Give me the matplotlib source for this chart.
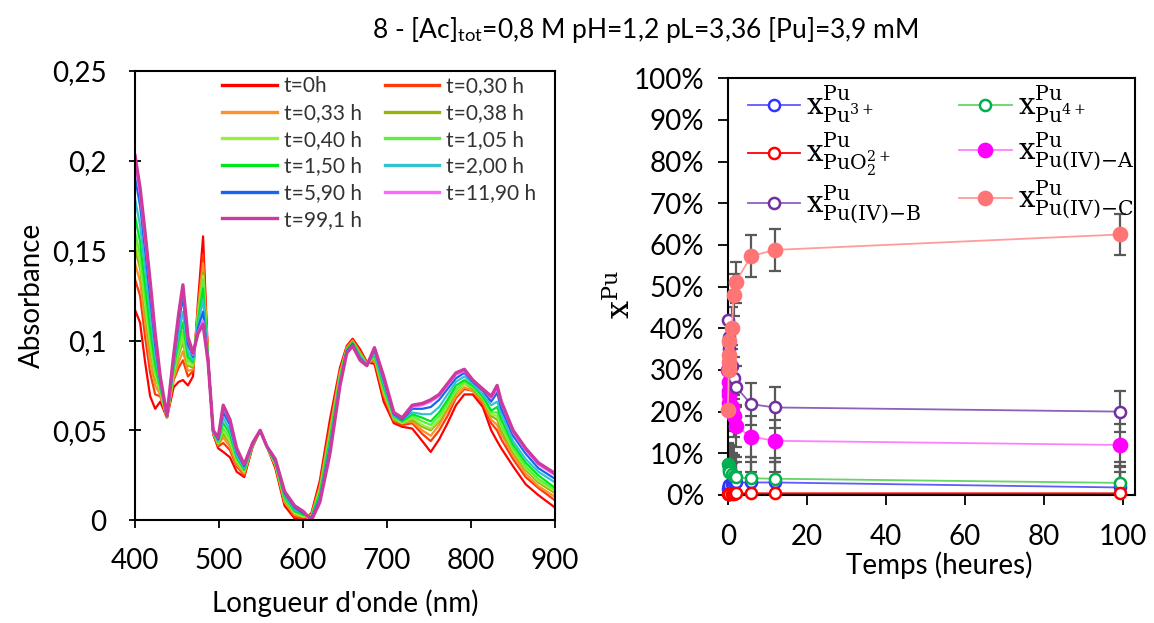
import matplotlib
matplotlib.use("Agg")
from matplotlib import pyplot as plt
from matplotlib.font_manager import FontProperties
from matplotlib.ticker import PercentFormatter

plt.rcParams['font.family'] = ['Lato', 'DejaVu Sans']
plt.rcParams['mathtext.fontset'] = 'custom'
plt.rcParams['mathtext.rm'] = 'Lato'
plt.rcParams['mathtext.it'] = 'Lato:italic'
plt.rcParams['mathtext.bf'] = 'Lato:bold'

title = r"8 - [Ac]$_{\mathrm{tot}}$=0,8 M pH=1,2 pL=3,36 [Pu]=3,9 mM"

##### Spectra (left panel) #####
wavelength = [400, 406, 412, 418, 424, 430, 438, 446, 452, 457, 463, 469, 475, 481,
              487, 493, 499, 505, 513, 521, 530, 540, 549, 557, 567, 578, 590, 600,
              610, 620, 632, 644, 652, 659, 668, 676, 685, 696, 708, 718, 730, 742,
              752, 762, 772, 782, 792, 802, 814, 824, 831, 836, 850, 865, 880, 900]

abs_t0 = [.117, .110, .088, .069, .062, .066, .057, .074, .077, .078, .075, .080, .122, .158,
          .090, .048, .040, .038, .035, .027, .024, .041, .050, .041, .029, .008, .001, .000,
          .004, .022, .056, .085, .097, .101, .095, .088, .087, .066, .054, .052, .051, .044,
          .038, .045, .054, .064, .070, .070, .063, .050, .044, .040, .030, .020, .014, .007]
abs_t030 = [.134, .125, .102, .082, .070, .069, .057, .078, .085, .089, .080, .083, .118, .148,
            .090, .048, .041, .043, .039, .030, .025, .041, .050, .041, .030, .010, .002, .001,
            .003, .020, .052, .083, .096, .100, .094, .088, .089, .069, .055, .053, .054, .048,
            .044, .050, .058, .068, .073, .072, .065, .054, .050, .045, .034, .024, .018, .011]
abs_t033 = [.143, .133, .110, .088, .075, .070, .057, .079, .088, .094, .083, .084, .117, .143,
            .089, .049, .042, .046, .041, .031, .026, .042, .050, .041, .031, .010, .003, .002,
            .003, .018, .050, .082, .096, .100, .093, .087, .090, .070, .056, .054, .055, .050,
            .047, .053, .061, .069, .074, .072, .066, .056, .053, .048, .036, .026, .019, .013]
abs_t038 = [.151, .140, .117, .095, .079, .072, .057, .081, .092, .099, .086, .085, .115, .138,
            .089, .049, .042, .048, .043, .032, .027, .042, .050, .041, .031, .011, .004, .002,
            .002, .017, .048, .081, .095, .099, .093, .087, .091, .072, .056, .054, .056, .052,
            .050, .055, .063, .071, .076, .073, .067, .058, .056, .050, .038, .028, .021, .015]
abs_t040 = [.156, .144, .120, .098, .081, .072, .057, .082, .094, .102, .087, .086, .114, .136,
            .089, .049, .043, .050, .044, .033, .027, .042, .050, .041, .031, .012, .004, .002,
            .002, .017, .047, .081, .095, .099, .092, .087, .091, .072, .057, .054, .057, .053,
            .051, .056, .064, .072, .076, .074, .068, .059, .058, .052, .039, .029, .022, .016]
abs_t105 = [.160, .148, .124, .101, .083, .073, .058, .083, .096, .105, .089, .087, .113, .134,
            .089, .049, .043, .051, .046, .034, .028, .042, .050, .041, .032, .012, .005, .003,
            .002, .016, .047, .080, .095, .099, .092, .087, .092, .073, .057, .055, .058, .055,
            .053, .058, .065, .073, .077, .074, .068, .060, .060, .053, .040, .030, .023, .017]
abs_t150 = [.169, .155, .131, .107, .087, .074, .058, .085, .100, .110, .091, .088, .111, .129,
            .089, .049, .044, .054, .048, .035, .028, .042, .050, .041, .032, .013, .005, .003,
            .002, .015, .045, .079, .095, .099, .091, .087, .092, .074, .058, .055, .059, .057,
            .055, .060, .067, .075, .078, .075, .069, .061, .063, .056, .042, .032, .025, .018]
abs_t200 = [.179, .164, .140, .115, .092, .076, .058, .087, .104, .116, .094, .089, .109, .123,
            .089, .049, .044, .057, .050, .036, .029, .042, .050, .041, .033, .014, .006, .004,
            .001, .013, .042, .078, .094, .098, .091, .087, .093, .076, .058, .056, .060, .059,
            .059, .063, .070, .077, .080, .076, .070, .064, .066, .059, .044, .034, .027, .021]
abs_t590 = [.191, .175, .150, .124, .098, .078, .058, .089, .110, .124, .098, .091, .107, .116,
            .088, .050, .045, .060, .053, .038, .030, .043, .050, .041, .033, .015, .007, .004,
            .001, .012, .040, .076, .094, .098, .090, .086, .095, .078, .059, .056, .062, .062,
            .063, .067, .073, .079, .082, .077, .072, .066, .071, .062, .047, .037, .029, .023]
abs_t1190 = [.199, .181, .156, .130, .102, .079, .058, .091, .113, .128, .101, .092, .105, .111,
             .088, .050, .046, .063, .055, .039, .031, .043, .050, .041, .034, .016, .008, .005,
             .000, .011, .038, .076, .093, .097, .089, .086, .096, .079, .060, .057, .063, .064,
             .066, .069, .075, .081, .083, .078, .073, .068, .073, .065, .049, .039, .031, .025]
abs_t991 = [.203, .185, .160, .133, .104, .080, .058, .092, .115, .131, .102, .093, .104, .109,
            .088, .050, .046, .064, .056, .040, .031, .043, .050, .041, .034, .016, .008, .005,
            .000, .010, .037, .075, .093, .097, .089, .086, .096, .080, .060, .057, .064, .065,
            .067, .070, .076, .082, .084, .078, .073, .069, .075, .066, .050, .040, .032, .026]

spectra = [abs_t0, abs_t030, abs_t033, abs_t038, abs_t040, abs_t105,
           abs_t150, abs_t200, abs_t590, abs_t1190, abs_t991]
spectra_labels = ["t=0h", "t=0,30 h", "t=0,33 h", "t=0,38 h", "t=0,40 h", "t=1,05 h",
                  "t=1,50 h", "t=2,00 h", "t=5,90 h", "t=11,90 h", "t=99,1 h"]
spectra_colors = ["#FF0000", "#FF3A0A", "#FF9226", "#99B30C", "#99F03C", "#5CF03C",
                  "#00E61E", "#33C3D0", "#1466F0", "#FF66FF", "#CC3A9E"]

abs_ticks = [0, 0.05, 0.1, 0.15, 0.2, 0.25]
abs_ticklabels = ["0", "0,05", "0,1", "0,15", "0,2", "0,25"]
wl_ticks = [400, 500, 600, 700, 800, 900]

##### Speciation (right panel) #####
times = [0, 0.30, 0.33, 0.38, 0.40, 1.05, 1.50, 2.00, 5.90, 11.90, 99.1]
x_pu3 = [1.5, 2.0, 2.2, 2.4, 2.5, 2.6, 2.8, 3.0, 3.0, 3.0, 1.8]
x_pu4 = [7.5, 7.0, 6.5, 6.0, 5.5, 5.0, 4.5, 4.2, 4.0, 3.9, 2.9]
x_puo2 = [0.2, 0.3, 0.3, 0.3, 0.3, 0.3, 0.3, 0.4, 0.4, 0.4, 0.4]
x_a = [30, 27, 25, 24, 22, 21, 19, 16.5, 14, 13, 12]
x_b = [42, 38, 36, 35, 33, 31, 28, 26, 21.8, 21, 20]
x_c = [20.4, 30, 32, 33.5, 37, 40, 48, 51, 57.3, 58.8, 62.5]
err_pct = 5.0

species_labels = [r"$\mathrm{x}^{\mathrm{Pu}}_{\mathrm{Pu}^{3+}}$",
                  r"$\mathrm{x}^{\mathrm{Pu}}_{\mathrm{Pu}^{4+}}$",
                  r"$\mathrm{x}^{\mathrm{Pu}}_{\mathrm{PuO}_2^{2+}}$",
                  r"$\mathrm{x}^{\mathrm{Pu}}_{\mathrm{Pu(IV){-}A}}$",
                  r"$\mathrm{x}^{\mathrm{Pu}}_{\mathrm{Pu(IV){-}B}}$",
                  r"$\mathrm{x}^{\mathrm{Pu}}_{\mathrm{Pu(IV){-}C}}$"]
# (marker colour, line colour, filled)
species_styles = [("#3333FF", "#5C5CFF", False),
                  ("#00B050", "#66D466", False),
                  ("#FF0000", "#FF0000", False),
                  ("#FF00FF", "#FF80FF", True),
                  ("#7030A0", "#8E60BC", False),
                  ("#FF7575", "#FF9C9C", True)]

fig = plt.figure(figsize=(11.54, 6.23), dpi=100)
fig.text(0.5595, 0.952, title, ha="center", va="center", fontsize=19)

### Left: absorbance spectra
ax1 = fig.add_axes([0.117, 0.165, 0.364, 0.721])
handles = []
for vals, lab, col in zip(spectra, spectra_labels, spectra_colors):
    lw = 2.4 if lab == "t=99,1 h" else 1.6
    h, = ax1.plot(wavelength, vals, color=col, lw=lw, label=lab)
    handles.append(h)
ax1.set_xlim(400, 900)
ax1.set_ylim(0, 0.25)
ax1.set_xticks(wl_ticks)
ax1.set_yticks(abs_ticks)
ax1.set_yticklabels(abs_ticklabels)
ax1.tick_params(axis="y", direction="inout", length=9, width=1.3, labelsize=20, pad=16)
ax1.tick_params(axis="x", direction="out", length=6, width=1.3, labelsize=20, pad=14)
for sp in ax1.spines.values():
    sp.set_linewidth(1.5)
ax1.set_ylabel("Absorbance", fontsize=20)
ax1.yaxis.set_label_coords(-0.215, 0.5)
ax1.set_xlabel("Longueur d'onde (nm)", fontsize=20)
ax1.xaxis.set_label_coords(0.5, -0.155)
# row-major ordering for a 2 column legend
order = [0, 2, 4, 6, 8, 10, 1, 3, 5, 7, 9]
leg1 = ax1.legend([handles[i] for i in order], [spectra_labels[i] for i in order],
                  ncol=2, frameon=False, fontsize=15, loc="upper right",
                  bbox_to_anchor=(1.0, 1.03), handlelength=2.6, columnspacing=1.1,
                  labelspacing=0.32, handletextpad=0.35)
for t in leg1.get_texts():
    t.set_color("#333333")
for lh in leg1.get_lines():
    lh.set_linewidth(2.4)

### Right: speciation vs time
ax2 = fig.add_axes([0.6306, 0.2055, 0.353, 0.669])
series = [x_pu3, x_pu4, x_puo2, x_a, x_b, x_c]
lines = []
for vals, lab, (mc, lc, filled) in zip(series, species_labels, species_styles):
    ax2.errorbar(times, vals, yerr=err_pct, fmt="none", ecolor="#595959",
                 elinewidth=1.6, capsize=4.5, capthick=1.6, zorder=2)
    ms = 9.5 if filled else 8
    h, = ax2.plot(times, vals, color=lc, lw=1.3, marker="o", ms=ms,
                  markeredgecolor=mc, markeredgewidth=1.8,
                  markerfacecolor=mc if filled else "white",
                  label=lab, clip_on=False, zorder=3)
    lines.append(h)
ax2.set_xlim(0, 103)
ax2.set_ylim(0, 100)
ax2.set_xticks([0, 20, 40, 60, 80, 100])
ax2.set_yticks(range(0, 101, 10))
ax2.yaxis.set_major_formatter(PercentFormatter(100, decimals=0))
ax2.tick_params(axis="y", direction="out", length=7, width=1.3, labelsize=20, pad=10)
ax2.tick_params(axis="x", direction="out", length=7, width=1.3, labelsize=20, pad=14)
for sp in ax2.spines.values():
    sp.set_linewidth(1.5)
ax2.set_xlabel("Temps (heures)", fontsize=20)
ax2.xaxis.set_label_coords(0.52, -0.135)
ax2.set_ylabel(r"$\mathrm{x}^{\mathrm{Pu}}$", fontsize=23, math_fontfamily="dejavuserif")
ax2.yaxis.set_label_coords(-0.225, 0.48)
leg_order = [0, 2, 4, 1, 3, 5]
ax2.legend([lines[i] for i in leg_order], [species_labels[i] for i in leg_order],
           ncol=2, frameon=False, loc="upper left", bbox_to_anchor=(-0.015, 1.05),
           prop=FontProperties(size=21, math_fontfamily="dejavuserif"),
           handlelength=1.8, columnspacing=1.3, labelspacing=0.2, handletextpad=0.2)

plt.savefig("out.png", dpi=100)
